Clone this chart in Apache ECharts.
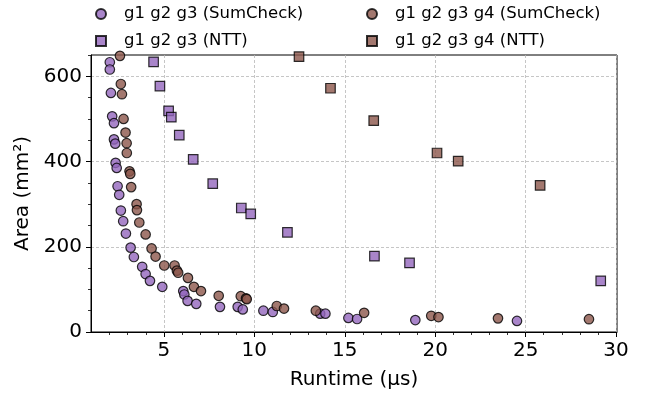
<!DOCTYPE html>
<html>
<head>
<meta charset="utf-8">
<script src="https://cdn.jsdelivr.net/npm/echarts@6/dist/echarts.min.js"></script>
<style>
  html, body { margin: 0; padding: 0; background: #fff; }
  #main { width: 646px; height: 398px; }
</style>
</head>
<body>
<div id="main"></div>
<script>
// [runtime µs, area mm²]
const sumcheck3 = [
  [2.01, 633], [2.01, 616], [2.07, 561], [2.14, 506], [2.24, 490], [2.24, 452],
  [2.31, 442], [2.33, 397], [2.39, 385], [2.44, 342], [2.53, 322], [2.62, 285],
  [2.75, 260], [2.90, 231], [3.16, 198], [3.34, 176], [3.80, 153], [3.99, 136],
  [4.23, 120], [4.91, 106], [6.07, 96], [6.13, 88], [6.31, 73], [6.79, 66],
  [8.10, 59], [9.08, 59], [9.36, 53], [10.5, 50], [11.02, 47], [13.64, 43],
  [13.93, 43], [15.2, 33], [15.68, 30.5], [18.9, 28], [24.52, 26]
];
const ntt3 = [
  [4.43, 634], [4.78, 577], [5.26, 519], [5.41, 504], [5.85, 462], [6.62, 405],
  [7.70, 348], [9.28, 291], [9.80, 277], [11.83, 234], [16.64, 178], [18.58, 162],
  [29.15, 120]
];
const sumcheck4 = [
  [2.57, 648], [2.62, 582], [2.68, 558], [2.77, 500], [2.88, 468], [2.94, 443],
  [2.95, 420], [3.10, 377], [3.14, 371], [3.19, 340], [3.49, 300], [3.51, 286],
  [3.64, 257], [3.99, 229], [4.32, 196], [4.54, 177], [5.02, 156], [5.59, 156],
  [5.72, 144], [5.79, 139], [6.33, 127], [6.66, 106], [7.05, 96], [8.03, 85],
  [9.25, 84], [9.54, 79], [9.58, 77], [11.24, 61], [11.64, 55], [13.4, 50],
  [16.07, 45], [19.78, 38], [20.18, 35], [23.47, 32], [28.5, 30]
];
const ntt4 = [
  [12.47, 646], [14.21, 572], [16.6, 496], [20.1, 420], [21.27, 401], [25.8, 344]
];

const xTicks = [5, 10, 15, 20, 25, 30];
const yTicks = [0, 200, 400, 600];
const xMinor = [2, 3, 4, 6, 7, 8, 9, 11, 12, 13, 14, 16, 17, 18, 19, 21, 22, 23, 24, 26, 27, 28, 29];
const yMinor = [50, 100, 150, 250, 300, 350, 450, 500, 550, 650];

const X_MIN = 0.97, X_MAX = 30.05, Y_MIN = 0, Y_MAX = 650;

const purple = '#9467bd';
const brown = '#8c564b';
const font = 'DejaVu Sans';

const myChart = echarts.init(document.getElementById('main'));

const markerStyle = (color) => ({
    color: color,
    borderColor: '#000',
    borderWidth: 1.2,
    opacity: 0.8
});

const legendBase = {
    orient: 'vertical',
    top: 0,
    itemWidth: 10,
    itemHeight: 10,
    itemGap: 9,
    selectedMode: false,
    textStyle: { fontFamily: font, fontSize: 16.5, color: '#000', lineHeight: 18, padding: [0, 0, 0, 13] }
};

const majorTick = { show: true, length: 5, lineStyle: { color: '#000', width: 1 } };
const minorTick = { show: true, length: 3, lineStyle: { color: '#000', width: 0.8 } };
const gridLine = { show: true, lineStyle: { color: '#b8b8b8', width: 0.8, type: [3, 2] } };

const option = {
    animation: false,
    textStyle: { fontFamily: font },
    legend: [
        Object.assign({}, legendBase, { left: 90, data: ['g1 g2 g3 (SumCheck)', 'g1 g2 g3 (NTT)'] }),
        Object.assign({}, legendBase, { left: 361, data: ['g1 g2 g3 g4 (SumCheck)', 'g1 g2 g3 g4 (NTT)'] })
    ],
    grid: {
        left: 91,
        right: 29,
        top: 55,
        bottom: 66,
        show: true,
        borderColor: '#000',
        borderWidth: 1,
        backgroundColor: 'transparent'
    },
    xAxis: [
        {
            type: 'value',
            min: X_MIN,
            max: X_MAX,
            position: 'bottom',
            name: 'Runtime (μs)',
            nameLocation: 'middle',
            nameGap: 38,
            nameTextStyle: { fontSize: 20, color: '#000', fontFamily: font },
            axisLine: { show: true, onZero: false, lineStyle: { color: '#000', width: 1 } },
            axisTick: Object.assign({ customValues: xTicks }, majorTick),
            axisLabel: { customValues: xTicks, fontSize: 20, color: '#000', margin: 9 },
            splitLine: gridLine
        },
        {
            type: 'value',
            min: X_MIN,
            max: X_MAX,
            position: 'bottom',
            axisLine: { show: false, onZero: false },
            axisTick: Object.assign({ customValues: xMinor }, minorTick),
            axisLabel: { show: false },
            splitLine: { show: false }
        }
    ],
    yAxis: [
        {
            type: 'value',
            min: Y_MIN,
            max: Y_MAX,
            position: 'left',
            name: 'Area (mm²)',
            nameLocation: 'middle',
            nameGap: 58,
            nameRotate: 90,
            nameTextStyle: { fontSize: 20, color: '#000', fontFamily: font },
            axisLine: { show: true, onZero: false, lineStyle: { color: '#000', width: 1 } },
            axisTick: Object.assign({ customValues: yTicks }, majorTick),
            axisLabel: { customValues: yTicks, fontSize: 20, color: '#000', margin: 9 },
            splitLine: gridLine
        },
        {
            type: 'value',
            min: Y_MIN,
            max: Y_MAX,
            position: 'left',
            axisLine: { show: false, onZero: false },
            axisTick: Object.assign({ customValues: yMinor }, minorTick),
            axisLabel: { show: false },
            splitLine: { show: false }
        }
    ],
    series: [
        {
            name: 'g1 g2 g3 (SumCheck)',
            type: 'scatter',
            symbol: 'circle',
            symbolSize: 9.5,
            data: sumcheck3,
            itemStyle: markerStyle(purple)
        },
        {
            name: 'g1 g2 g3 (NTT)',
            type: 'scatter',
            symbol: 'rect',
            symbolSize: 9.5,
            data: ntt3,
            itemStyle: markerStyle(purple)
        },
        {
            name: 'g1 g2 g3 g4 (SumCheck)',
            type: 'scatter',
            symbol: 'circle',
            symbolSize: 9.5,
            data: sumcheck4,
            itemStyle: markerStyle(brown)
        },
        {
            name: 'g1 g2 g3 g4 (NTT)',
            type: 'scatter',
            symbol: 'rect',
            symbolSize: 9.5,
            data: ntt4,
            itemStyle: markerStyle(brown)
        }
    ]
};

myChart.setOption(option);
</script>
</body>
</html>
